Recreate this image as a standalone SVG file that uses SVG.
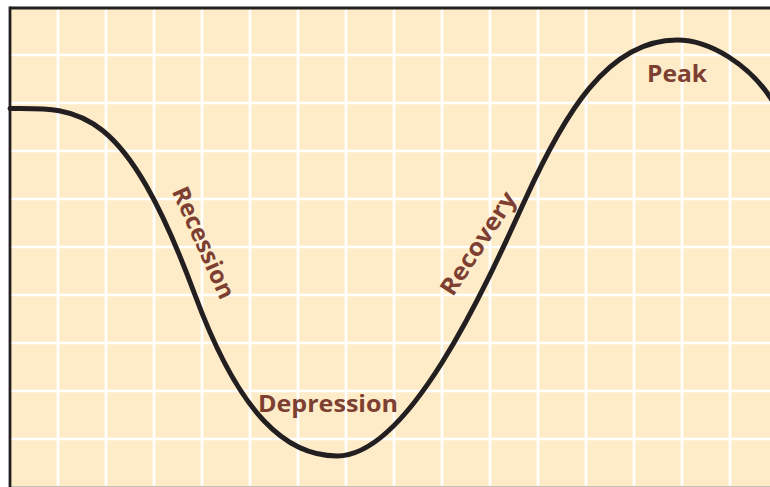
<svg xmlns="http://www.w3.org/2000/svg" width="770" height="487" viewBox="0 0 770 487">
<style>
.grid line{stroke:#ffffff;stroke-width:2.6}
.lbl{font-family:"Open Sans","Liberation Sans",sans-serif;font-weight:700;font-size:24px;fill:#7d3f31}
.curve{fill:none;stroke:#231f20;stroke-width:5;stroke-linecap:round;stroke-linejoin:round}
</style>
<rect x="0" y="0" width="770" height="487" fill="#ffffff"/>
<rect x="10" y="8" width="760" height="479" fill="#feecc8"/>
<g class="grid">
<line x1="58" y1="8" x2="58" y2="487"/><line x1="106" y1="8" x2="106" y2="487"/><line x1="154" y1="8" x2="154" y2="487"/><line x1="202" y1="8" x2="202" y2="487"/><line x1="250" y1="8" x2="250" y2="487"/><line x1="298" y1="8" x2="298" y2="487"/><line x1="346" y1="8" x2="346" y2="487"/><line x1="394" y1="8" x2="394" y2="487"/><line x1="442" y1="8" x2="442" y2="487"/><line x1="490" y1="8" x2="490" y2="487"/><line x1="538" y1="8" x2="538" y2="487"/><line x1="586" y1="8" x2="586" y2="487"/><line x1="634" y1="8" x2="634" y2="487"/><line x1="682" y1="8" x2="682" y2="487"/><line x1="730" y1="8" x2="730" y2="487"/>
<line x1="10" y1="55" x2="770" y2="55"/><line x1="10" y1="103" x2="770" y2="103"/><line x1="10" y1="151" x2="770" y2="151"/><line x1="10" y1="199" x2="770" y2="199"/><line x1="10" y1="247" x2="770" y2="247"/><line x1="10" y1="295" x2="770" y2="295"/><line x1="10" y1="343" x2="770" y2="343"/><line x1="10" y1="391" x2="770" y2="391"/><line x1="10" y1="439" x2="770" y2="439"/>
</g>
<line x1="10" y1="486.5" x2="770" y2="486.5" stroke="#c8c2b6" stroke-width="1"/>
<g id="frame" fill="none" stroke="#231f20" stroke-width="2.8">
<line x1="10" y1="8" x2="770" y2="8"/>
<line x1="10" y1="6.6" x2="10" y2="487"/>
</g>
<g id="connectors">
<path class="curve" d="M10,108.5 C80,107.5 125,106 195,295 C240,416.5 287,456 337,456 C409,456 485,288 525,200 C563,116.4 607,40 677,40 C712,40 750,67 770,97 L776,106"/>
</g>
<g id="label-recession"><text class="lbl" text-anchor="middle" textLength="120" lengthAdjust="spacingAndGlyphs" transform="translate(196,246) rotate(66)">Recession</text></g>
<g id="label-depression"><text class="lbl" x="258" y="412" textLength="140" lengthAdjust="spacingAndGlyphs">Depression</text></g>
<g id="label-recovery"><text class="lbl" text-anchor="middle" textLength="118" lengthAdjust="spacingAndGlyphs" transform="translate(485,248) rotate(-57)">Recovery</text></g>
<g id="label-peak"><text class="lbl" x="647" y="82" textLength="60" lengthAdjust="spacingAndGlyphs">Peak</text></g>
</svg>
